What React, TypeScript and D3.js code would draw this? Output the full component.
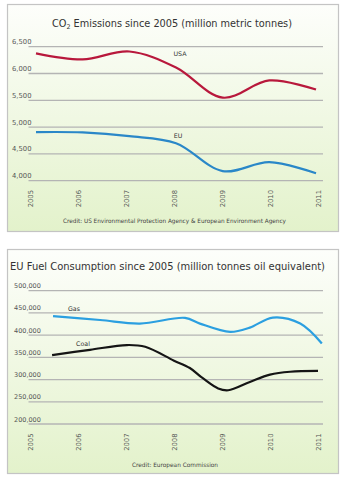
import React from "react";
import * as d3 from "d3";

// ---------- Data ----------
const years = [2005, 2006, 2007, 2008, 2009, 2010, 2011];
const usaCO2 = [6376, 6263, 6410, 6110, 5550, 5870, 5700];
const euCO2 = [4906, 4900, 4831, 4700, 4180, 4345, 4140];
const co2Ticks = [4000, 4500, 5000, 5500, 6000, 6500];

const gasYears = [2005.48, 2006.46, 2007.29, 2008.23, 2008.54, 2009.17, 2009.58, 2010.06, 2010.63, 2011.08];
const gasValues = [442600, 434000, 426000, 438800, 426000, 407300, 417000, 439600, 426000, 381000];
const coalYears = [2005.46, 2006.25, 2007.02, 2007.4, 2008.0, 2008.33, 2008.6, 2008.92, 2009.13, 2009.58, 2010.0, 2010.42, 2011.0];
const coalValues = [355000, 367000, 377700, 373800, 342500, 326000, 303000, 280000, 276000, 294600, 311000, 317600, 319400];
const fuelTicks = [200000, 250000, 300000, 350000, 400000, 450000, 500000];

const FONT = "'DejaVu Sans', 'Open Sans', sans-serif";

export default function App() {
  const W = 345, H = 480;

  const xLabel = d3.scaleLinear().domain([2005, 2011]).range([30, 318]);
  const xTop = d3.scaleLinear().domain([2005, 2011]).range([36, 316]);
  const yTop = d3.scaleLinear().domain([4000, 6500]).range([180.7, 46.7]);
  const yBot = d3.scaleLinear().domain([200000, 500000]).range([424, 290.7]);

  const lineTop = d3
    .line<number>()
    .x((_, i) => xTop(years[i]))
    .y((d) => yTop(d))
    .curve(d3.curveCatmullRom.alpha(0.5));

  const lineGas = d3
    .line<number>()
    .x((_, i) => xLabel(gasYears[i]))
    .y((d) => yBot(d))
    .curve(d3.curveCatmullRom.alpha(0.5));
  const lineCoal = d3
    .line<number>()
    .x((_, i) => xLabel(coalYears[i]))
    .y((d) => yBot(d))
    .curve(d3.curveCatmullRom.alpha(0.5));

  const fmt = d3.format(",");
  const gridX0 = 28.5, gridX1 = 323;

  const panel = (y0: number, y1: number, id: string) => (
    <g>
      <defs>
        <linearGradient id={id} x1="0" y1="0" x2="0" y2="1">
          <stop offset="0%" stopColor="#fdfefb" />
          <stop offset="100%" stopColor="#e3f2cb" />
        </linearGradient>
      </defs>
      <rect x={7.5} y={y0 + 0.5} width={331} height={y1 - y0} fill={`url(#${id})`} stroke="#c4c4c4" strokeWidth={1.2} />
    </g>
  );

  return (
    <svg
      width={W}
      height={H}
      style={{ position: "absolute", left: 0, top: 0, background: "#fff" }}
      fontFamily={FONT}
    >
      {panel(4, 231, "gTop")}
      {panel(249, 473, "gBot")}

      {/* ---------- Top chart ---------- */}
      <text x={52} y={27} fontSize={10} fill="#333" textLength={240} lengthAdjust="spacingAndGlyphs">
        CO<tspan fontSize={6.5} dy={2}>2</tspan>
        <tspan dy={-2}> Emissions since 2005 (million metric tonnes)</tspan>
      </text>
      {co2Ticks.map((t) => (
        <g key={t}>
          <line x1={gridX0} x2={gridX1} y1={yTop(t)} y2={yTop(t)} stroke="#b4b4b4" strokeWidth={1.3} />
          <text x={12} y={yTop(t) - 2.5} fontSize={6.8} fill="#555">{fmt(t)}</text>
        </g>
      ))}
      {years.map((yr) => (
        <text key={yr} transform={`translate(${xLabel(yr) + 2.5},190) rotate(-90)`} textAnchor="end" fontSize={6.8} fill="#555">
          {yr}
        </text>
      ))}
      <path d={lineTop(usaCO2) || ""} fill="none" stroke="#b8183c" strokeWidth={2.2} />
      <path d={lineTop(euCO2) || ""} fill="none" stroke="#2a87c8" strokeWidth={2.2} />
      <text x={180} y={55.5} textAnchor="middle" fontSize={6.3} fill="#333">USA</text>
      <text x={178} y={137.5} textAnchor="middle" fontSize={6.3} fill="#333">EU</text>
      <text x={63} y={223} fontSize={6} fill="#444" textLength={223} lengthAdjust="spacingAndGlyphs">
        Credit: US Environmental Protection Agency &amp; European Environment Agency
      </text>

      {/* ---------- Bottom chart ---------- */}
      <text x={10} y={270} fontSize={10} fill="#333" textLength={315} lengthAdjust="spacingAndGlyphs">
        EU Fuel Consumption since 2005 (million tonnes oil equivalent)
      </text>
      {fuelTicks.map((t) => (
        <g key={t}>
          <line x1={gridX0} x2={gridX1} y1={yBot(t)} y2={yBot(t)} stroke="#b4b4b4" strokeWidth={1.3} />
          <text x={14} y={yBot(t) - 2.5} fontSize={6.5} fill="#555">{fmt(t)}</text>
        </g>
      ))}
      {years.map((yr) => (
        <text key={yr} transform={`translate(${xLabel(yr) + 2.5},433.5) rotate(-90)`} textAnchor="end" fontSize={6.8} fill="#555">
          {yr}
        </text>
      ))}
      <path d={lineGas(gasValues) || ""} fill="none" stroke="#2b9fe0" strokeWidth={2.2} />
      <path d={lineCoal(coalValues) || ""} fill="none" stroke="#151515" strokeWidth={2.2} />
      <text x={74} y={310.5} textAnchor="middle" fontSize={6.3} fill="#333">Gas</text>
      <text x={83} y={346} textAnchor="middle" fontSize={6.3} fill="#333">Coal</text>
      <text x={132} y={467} fontSize={6} fill="#444" textLength={86} lengthAdjust="spacingAndGlyphs">
        Credit: European Commission
      </text>
    </svg>
  );
}
